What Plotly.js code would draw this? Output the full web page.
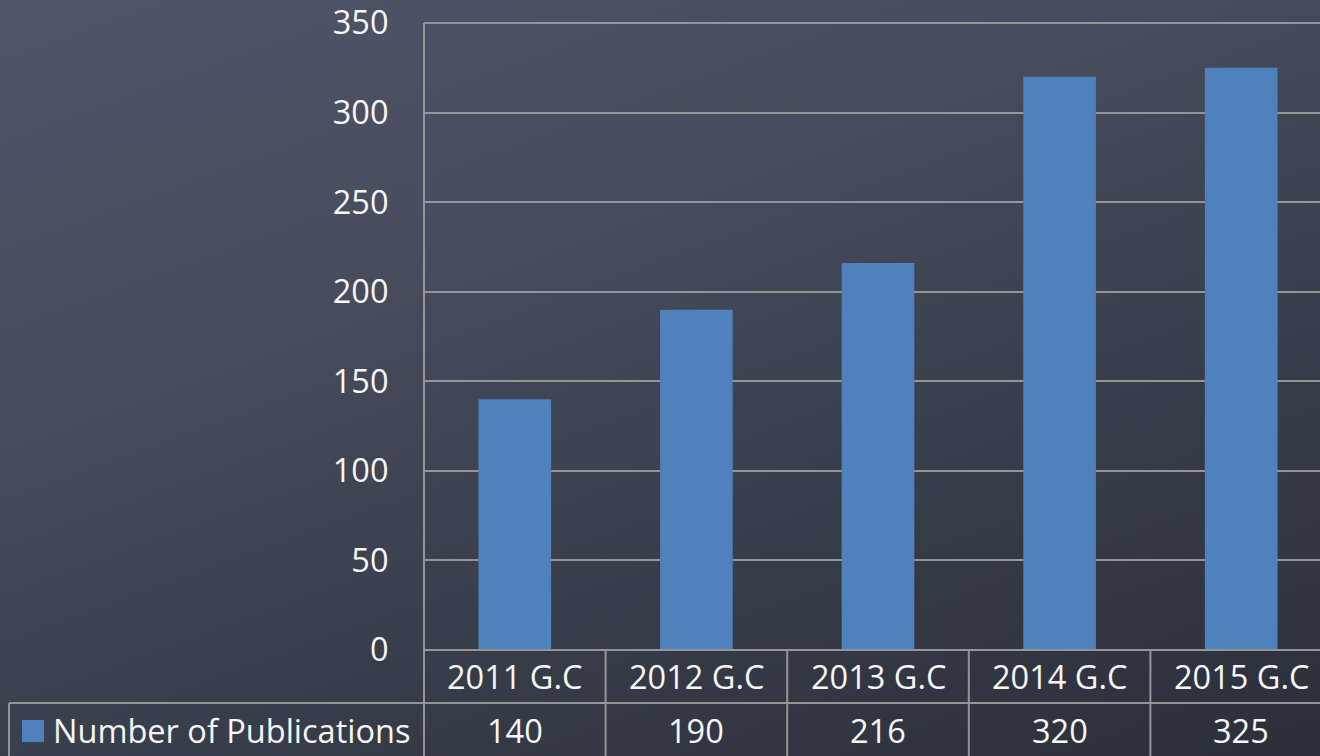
<!DOCTYPE html>
<html>
<head>
<meta charset="utf-8">
<script src="https://cdn.plot.ly/plotly-3.0.1.min.js"></script>
<style>
  html, body { margin: 0; padding: 0; width: 1320px; height: 756px; overflow: hidden;
    background: linear-gradient(160deg, #50566a 0%, #464c5c 35%, #363b48 70%, #2b2f3a 100%); }
  #chart { width: 1332px; height: 756px; }
</style>
</head>
<body>
<div id="chart"></div>
<script>
const categories = ["2011 G.C", "2012 G.C", "2013 G.C", "2014 G.C", "2015 G.C"];
const publications = [140, 190, 216, 320, 325];
const seriesName = "Number of Publications";
const yTicks = [0, 50, 100, 150, 200, 250, 300, 350];

const W = 1332, H = 756, L = 424, T = 23, B = 106;
const pw = W - L, ph = H - T - B;
const lineColor = "#959595";
const textColor = "#f6f6f6";
const font = "'Open Sans', Lato, sans-serif";
const fs = 32.5;

const px = x => (x - L) / pw;
const py = y => (H - B - y) / ph;

const row1 = 703, row2 = 760;
const shapes = [];
function line(x0, y0, x1, y1, xref) {
  shapes.push({type: "line", xref: xref || "paper", yref: "paper", x0, y0, x1, y1,
    line: {color: lineColor, width: 2}, layer: "above"});
}
// top gridline (range end)
shapes.push({type: "line", xref: "paper", yref: "paper", x0: 0, x1: 1, y0: 1, y1: 1,
  line: {color: lineColor, width: 2}, layer: "below"});
line(px(L), py(H - B), 1, py(H - B));
line(px(9), py(row1), 1, py(row1));
line(px(L), 1, px(L), py(row2));
line(px(9), py(row1), px(9), py(row2));
for (let i = 0; i < categories.length; i++) {
  line(i + 0.5, py(H - B), i + 0.5, py(row2), "x");
}
shapes.push({type: "rect", xref: "paper", yref: "paper",
  x0: px(22), x1: px(44), y0: py(742), y1: py(720),
  fillcolor: "#4f81bd", line: {width: 0}});

const annotations = [];
categories.forEach((c, i) => {
  annotations.push({x: i, xref: "x", y: py(676), yref: "paper", text: c, showarrow: false,
    xanchor: "center", yanchor: "middle", font: {family: font, size: fs, color: textColor}});
  annotations.push({x: i, xref: "x", y: py(730), yref: "paper", text: String(publications[i]), showarrow: false,
    xanchor: "center", yanchor: "middle", font: {family: font, size: fs, color: textColor}});
});
annotations.push({x: px(51), xref: "paper", y: py(730), yref: "paper", text: seriesName, showarrow: false,
  xanchor: "left", yanchor: "middle", font: {family: font, size: fs, color: textColor}});

const data = [{
  type: "bar", x: categories, y: publications, name: seriesName,
  marker: {color: "#4f81bd"}, hoverinfo: "x+y"
}];

const layout = {
  width: W, height: H,
  margin: {l: L, r: 0, t: T, b: B, pad: 0},
  paper_bgcolor: "rgba(0,0,0,0)", plot_bgcolor: "rgba(0,0,0,0)",
  showlegend: false, bargap: 0.6,
  xaxis: {type: "category", range: [-0.5, categories.length - 0.5], showticklabels: false,
    showgrid: false, zeroline: false, showline: false, fixedrange: true},
  yaxis: {range: [0, 350], tickvals: yTicks, ticktext: yTicks.map(String),
    showgrid: true, gridcolor: lineColor, gridwidth: 2, zeroline: false, showline: false,
    ticks: "outside", ticklen: 28, tickcolor: "rgba(0,0,0,0)", ticklabeloverflow: "allow",
    tickfont: {family: font, size: fs, color: textColor}, fixedrange: true},
  shapes, annotations
};

Plotly.newPlot("chart", data, layout, {displayModeBar: false, staticPlot: true});
</script>
</body>
</html>
